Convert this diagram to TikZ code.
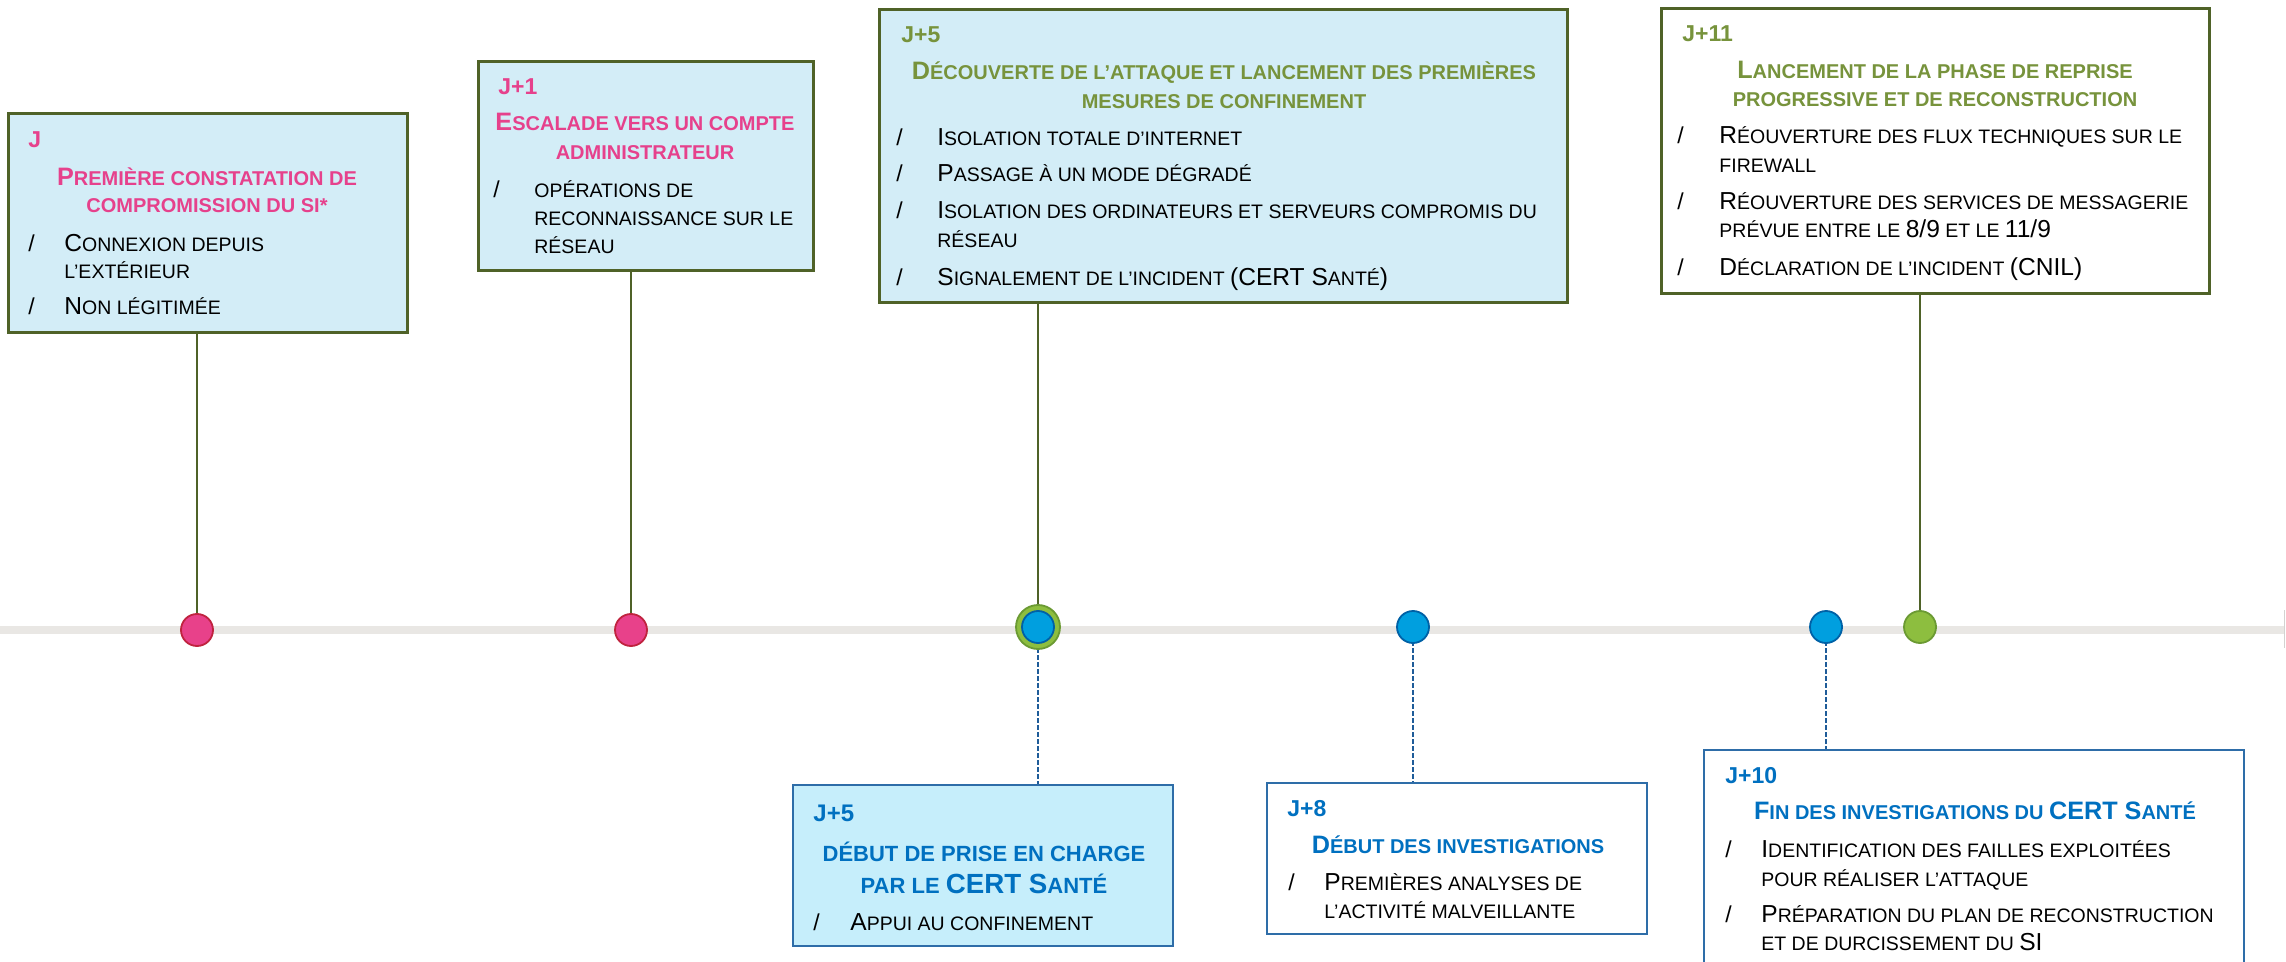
\documentclass[tikz,border=0pt]{standalone}
\usepackage{fontspec}
\setmainfont{Liberation Sans}
\usepackage{graphicx}
\usetikzlibrary{fit}
\definecolor{pinkT}{HTML}{E6418C}
\definecolor{greenT}{HTML}{77933C}
\definecolor{blueT}{HTML}{0070C0}
\definecolor{fillA}{HTML}{D3EDF7}
\definecolor{fillB}{HTML}{C6EEFB}
\definecolor{olive}{HTML}{4F6228}
\definecolor{blueB}{HTML}{2E6DA8}
\definecolor{dashC}{HTML}{1F5C99}
\definecolor{pinkF}{HTML}{E8418A}
\definecolor{pinkD}{HTML}{C0233F}
\definecolor{blueF}{HTML}{009FDF}
\definecolor{blueD}{HTML}{0061A6}
\definecolor{greenF}{HTML}{8DBE3F}
\definecolor{greenD}{HTML}{6B9A33}
\definecolor{lineG}{HTML}{E9E7E4}
\newcommand\Bg[1]{\scalebox{1.26}{#1}}
\begin{document}
\begin{tikzpicture}[x=0.5pt,y=-0.5pt,
  boxA/.style={draw=olive,line width=1.5pt,fill=fillA,inner sep=0pt},
  boxW/.style={draw=olive,line width=1.5pt,fill=white,inner sep=0pt},
  boxB/.style={draw=blueB,line width=1pt,fill=fillB,inner sep=0pt},
  boxBW/.style={draw=blueB,line width=0.8pt,fill=white,inner sep=0pt},
  hdr/.style={anchor=base west,inner sep=0pt,font=\fontsize{11.5}{13}\selectfont\bfseries},
  ttl/.style={anchor=base,inner sep=0pt,font=\fontsize{10}{12}\selectfont\bfseries},
  ttlb/.style={anchor=base,inner sep=0pt,font=\fontsize{11}{13}\selectfont\bfseries,text=blueT},
  bod/.style={anchor=base west,inner sep=0pt,font=\fontsize{9.75}{11}\selectfont},
  slh/.style={anchor=base west,inner sep=0pt,font=\fontsize{11.5}{13}\selectfont},
  dotP/.style={circle,draw=pinkD,fill=pinkF,line width=0.9pt,minimum size=16pt,inner sep=0pt},
  dotB/.style={circle,draw=blueD,fill=blueF,line width=0.9pt,minimum size=16pt,inner sep=0pt},
  dotG/.style={circle,draw=greenD,fill=greenF,line width=0.9pt,minimum size=16pt,inner sep=0pt},
  dotGO/.style={circle,draw=greenD,fill=greenF,line width=0.9pt,minimum size=22pt,inner sep=0pt},
  upline/.style={draw=olive,line width=0.9pt},
  dnline/.style={draw=dashC,line width=0.9pt,dash pattern=on 2.5pt off 1pt}
]
\useasboundingbox (0,0) rectangle (2286,962);
\clip (0,0) rectangle (2286,962);
\fill[white] (0,0) rectangle (2286,962);

% timeline
\coordinate (tl0) at (0,630);
\coordinate (tl1) at (2284,630);
\draw[lineG,line width=4pt] (tl0) -- (tl1);
\coordinate (tk0) at (2284,610);
\coordinate (tk1) at (2284,648);
\draw[lineG!80!gray,line width=0.5pt] (tk0) -- (tk1);

% boxes
\node[boxA,fit={(8,114) (407,333)}] (bJ) {};
\node[boxA,fit={(478,62) (813,271)}] (b1) {};
\node[boxA,fit={(879,10) (1567,303)}] (b5) {};
\node[boxW,fit={(1661,9) (2209,294)}] (b11) {};
\node[boxB,fit={(793,785) (1173,946)}] (b5b) {};
\node[boxBW,fit={(1267,783) (1647,934)}] (b8) {};
\node[boxBW,fit={(1704,750) (2244,990)}] (b10) {};

% dot coordinates
\coordinate (cJ) at (197,630);
\coordinate (c1) at (631,630);
\coordinate (c5) at (1038,627);
\coordinate (c8) at (1413,627);
\coordinate (c10) at (1826,627);
\coordinate (c11) at (1920,627);

% connectors
\draw[upline] (cJ |- bJ.south) -- (cJ);
\draw[upline] (c1 |- b1.south) -- (c1);
\draw[upline] (c5 |- b5.south) -- (c5);
\draw[upline] (c11 |- b11.south) -- (c11);
\draw[dnline] (c5) -- (c5 |- b5b.north);
\draw[dnline] (c8) -- (c8 |- b8.north);
\draw[dnline] (c10) -- (c10 |- b10.north);

% dots
\node[dotP] (dJ) at (cJ) {};
\node[dotP] (d1) at (c1) {};
\node[dotGO] (d5o) at (c5) {};
\node[dotB] (d5) at (c5) {};
\node[dotB] (d8) at (c8) {};
\node[dotB] (d10) at (c10) {};
\node[dotG] (d11) at (c11) {};

% ---- Box J
\node[hdr,text=pinkT] (tJh) at (28,148) {J};
\node[ttl,text=pinkT] (tJt1) at (207,186) {\Bg{P}REMIÈRE CONSTATATION DE};
\node[ttl,text=pinkT] (tJt2) at (207,213) {COMPROMISSION DU SI*};
\node[slh] (tJs1) at (28,252) {/};
\node[bod] (tJi1) at (64,252) {\Bg{C}ONNEXION DEPUIS};
\node[bod] (tJi2) at (64,279) {L’EXTÉRIEUR};
\node[slh] (tJs2) at (28,315) {/};
\node[bod] (tJi3) at (64,315) {\Bg{N}ON LÉGITIMÉE};

% ---- Box J+1
\node[hdr,text=pinkT] (t1h) at (498,95) {J+1};
\node[ttl,text=pinkT] (t1t1) at (645,131) {\Bg{E}SCALADE VERS UN COMPTE};
\node[ttl,text=pinkT] (t1t2) at (645,160) {ADMINISTRATEUR};
\node[slh] (t1s1) at (493,198) {/};
\node[bod] (t1i1) at (534,198) {OPÉRATIONS DE};
\node[bod] (t1i2) at (534,226) {RECONNAISSANCE SUR LE};
\node[bod] (t1i3) at (534,254) {RÉSEAU};

% ---- Box J+5 top
\node[hdr,text=greenT] (t5h) at (901,43) {J+5};
\node[ttl,text=greenT] (t5t1) at (1224,80) {\Bg{D}ÉCOUVERTE DE L’ATTAQUE ET LANCEMENT DES PREMIÈRES};
\node[ttl,text=greenT] (t5t2) at (1224,109) {MESURES DE CONFINEMENT};
\node[slh] (t5s1) at (896,146) {/};
\node[bod] (t5i1) at (937,146) {\Bg{I}SOLATION TOTALE D’INTERNET};
\node[slh] (t5s2) at (896,182) {/};
\node[bod] (t5i2) at (937,182) {\Bg{P}ASSAGE À UN MODE DÉGRADÉ};
\node[slh] (t5s3) at (896,219) {/};
\node[bod] (t5i3) at (937,219) {\Bg{I}SOLATION DES ORDINATEURS ET SERVEURS COMPROMIS DU};
\node[bod] (t5i4) at (937,248) {RÉSEAU};
\node[slh] (t5s4) at (896,286) {/};
\node[bod] (t5i5) at (937,286) {\Bg{S}IGNALEMENT DE L’INCIDENT \Bg{(CERT S}ANTÉ\Bg{)}};

% ---- Box J+11
\node[hdr,text=greenT] (t11h) at (1682,42) {J+11};
\node[ttl,text=greenT] (t11t1) at (1935,79) {\Bg{L}ANCEMENT DE LA PHASE DE REPRISE};
\node[ttl,text=greenT] (t11t2) at (1935,107) {PROGRESSIVE ET DE RECONSTRUCTION};
\node[slh] (t11s1) at (1677,144) {/};
\node[bod] (t11i1) at (1719,144) {\Bg{R}ÉOUVERTURE DES FLUX TECHNIQUES SUR LE};
\node[bod] (t11i2) at (1719,173) {FIREWALL};
\node[slh] (t11s2) at (1677,210) {/};
\node[bod] (t11i3) at (1719,210) {\Bg{R}ÉOUVERTURE DES SERVICES DE MESSAGERIE};
\node[bod] (t11i4) at (1719,238) {PRÉVUE ENTRE LE \Bg{8/9} ET LE \Bg{11/9}};
\node[slh] (t11s3) at (1677,276) {/};
\node[bod] (t11i5) at (1719,276) {\Bg{D}ÉCLARATION DE L’INCIDENT \Bg{(CNIL)}};

% ---- Box J+5 bottom
\node[hdr,text=blueT,font=\fontsize{12}{14}\selectfont\bfseries] (t5bh) at (813,821) {J+5};
\node[ttlb] (t5bt1) at (984,861) {DÉBUT DE PRISE EN CHARGE};
\node[ttlb] (t5bt2) at (984,893) {PAR LE \Bg{CERT S}ANTÉ};
\node[slh] (t5bs1) at (813,930) {/};
\node[bod] (t5bi1) at (850,930) {\Bg{A}PPUI AU CONFINEMENT};

% ---- Box J+8
\node[hdr,text=blueT] (t8h) at (1287,816) {J+8};
\node[ttl,text=blueT] (t8t1) at (1458,853) {\Bg{D}ÉBUT DES INVESTIGATIONS};
\node[slh] (t8s1) at (1288,890) {/};
\node[bod] (t8i1) at (1324,890) {\Bg{P}REMIÈRES ANALYSES DE};
\node[bod] (t8i2) at (1324,918) {L’ACTIVITÉ MALVEILLANTE};

% ---- Box J+10
\node[hdr,text=blueT] (t10h) at (1725,783) {J+10};
\node[ttl,text=blueT] (t10t1) at (1975,819) {\Bg{F}IN DES INVESTIGATIONS DU \Bg{CERT S}ANTÉ};
\node[slh] (t10s1) at (1725,857) {/};
\node[bod] (t10i1) at (1761,857) {\Bg{I}DENTIFICATION DES FAILLES EXPLOITÉES};
\node[bod] (t10i2) at (1761,886) {POUR RÉALISER L’ATTAQUE};
\node[slh] (t10s2) at (1725,922) {/};
\node[bod] (t10i3) at (1761,922) {\Bg{P}RÉPARATION DU PLAN DE RECONSTRUCTION};
\node[bod] (t10i4) at (1761,950) {ET DE DURCISSEMENT DU \Bg{SI}};
\end{tikzpicture}
\end{document}
